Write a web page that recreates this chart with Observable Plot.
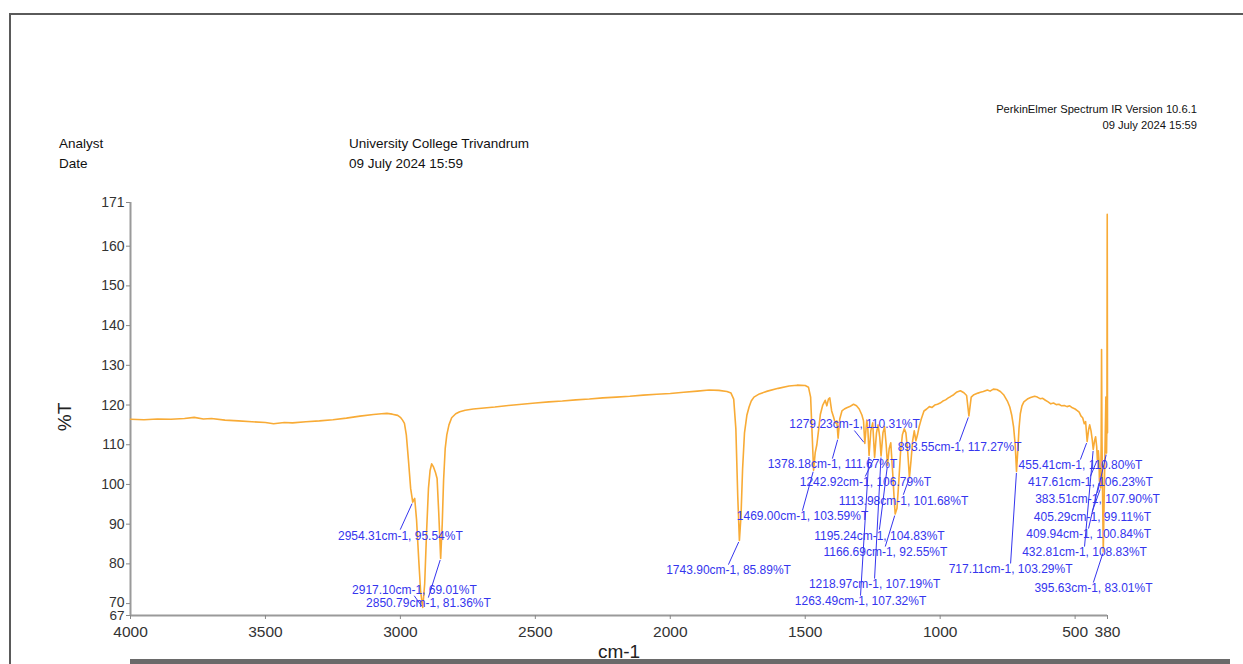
<!DOCTYPE html>
<html><head><meta charset="utf-8">
<script src="https://cdn.jsdelivr.net/npm/d3@7"></script>
<script src="https://cdn.jsdelivr.net/npm/@observablehq/plot@0.6"></script>
<style>
body{margin:0;background:#fff;font-family:"Liberation Sans",Arial,sans-serif;}
#page{position:relative;width:1243px;height:664px;overflow:hidden;background:#fff;}
.t{position:absolute;color:#111;white-space:nowrap;line-height:1;}
#chart{position:absolute;left:0;top:180px;}
#ylab{position:absolute;left:50px;top:407px;width:30px;height:20px;font-size:19px;line-height:20px;text-align:center;color:#222;transform:rotate(-90deg);transform-origin:50% 50%;}
g[aria-label="peak-labels"] text{letter-spacing:0.4px;}
</style></head><body>
<div id="page">
  <div style="position:absolute;left:9px;top:13px;width:1240px;height:2px;background:#5a5a5a"></div>
  <div style="position:absolute;left:9px;top:13px;width:2px;height:660px;background:#5a5a5a"></div>
  <div style="position:absolute;left:130px;top:659px;width:1100px;height:5px;background:#6a6a6a"></div>
  <div class="t" style="right:46px;top:104px;font-size:11.2px;text-align:right">PerkinElmer Spectrum IR Version 10.6.1</div>
  <div class="t" style="right:46px;top:120px;font-size:11.2px;text-align:right">09 July 2024 15:59</div>
  <div class="t" style="left:59px;top:137px;font-size:13.5px">Analyst</div>
  <div class="t" style="left:59px;top:157px;font-size:13.5px">Date</div>
  <div class="t" style="left:349px;top:137px;font-size:13.5px">University College Trivandrum</div>
  <div class="t" style="left:349px;top:157px;font-size:13.5px">09 July 2024 15:59</div>
  <div id="chart"></div>
  <div id="ylab">%T</div>
</div>
<script>
// ---- data ----
const xDomain = [4000, 380];
const yDomain = [67, 171];
const xTicks = [4000, 3500, 3000, 2500, 2000, 1500, 1000, 500, 380];
const yTicks = [171, 160, 150, 140, 130, 120, 110, 100, 90, 80, 70, 67];

const wavenumber = [4000,3950,3900,3850,3800,3764,3730,3700,3650,3600,3550,3500,3470,3430,3400,3350,3300,3250,3200,3150,3100,3070,3050,3030,3010,3000,2992,2985,2978,2970,2962,2954.31,2947,2940,2932,2925,2917.10,2910,2903,2896,2890,2884,2878,2870,2864,2858,2850.79,2845,2840,2834,2828,2820,2810,2795,2780,2760,2730,2700,2650,2600,2550,2500,2450,2400,2350,2300,2250,2200,2150,2100,2050,2000,1950,1900,1856,1820,1790,1775,1765,1757,1750,1743.90,1738,1732,1725,1716,1708,1700,1690,1670,1640,1600,1560,1530,1500,1488,1480,1474,1469.00,1463,1457,1450,1444,1435,1426,1420,1414,1409,1402,1395,1389,1383,1378.18,1372,1364,1355,1346,1335,1321,1310,1300,1290,1284,1279.23,1272,1268,1263.49,1257,1250,1242.92,1236,1230,1224,1218.97,1212,1206,1200,1195.24,1189,1183,1176,1171,1166.69,1160,1154,1147,1140,1133,1127,1120,1113.98,1108,1102,1096,1090,1084,1078,1070,1060,1050,1040,1030,1020,1010,1000,990,980,970,962,950,940,925,912,902,893.55,885,875,860,851,840,825,815,803,790,777,765,751,742,735,728,722,717.11,712,708,703,697,690,677,665,650,640,630,620,610,600,590,580,570,560,550,540,530,520,510,500,492,485,478,472,466,461,455.41,450,446,441,437,432.81,428,424,420,417.61,414,411.5,409.94,407.5,405.29,403.5,402,400.5,398,395.63,392,389,386,383.51,382.2,381,380];

const transmittance = [116.4,116.3,116.5,116.4,116.6,116.9,116.5,116.6,116.2,116.0,115.8,115.6,115.3,115.6,115.5,115.8,116.0,116.3,116.7,117.2,117.6,117.8,117.9,117.7,117.4,116.9,116.2,115.4,112.5,106,99,95.54,96.5,91,81,73,69.01,75,88,99,103.5,105.2,104.5,103,101.5,93,81.36,90,101,109,112.5,115,116.8,117.8,118.3,118.7,119,119.2,119.5,119.9,120.2,120.5,120.8,121,121.3,121.5,121.8,122,122.2,122.5,122.7,122.9,123.2,123.5,123.8,123.7,123.4,123,121.5,114,97,85.89,92,104,113,117.5,119.5,121,122,122.8,123.5,124.2,124.8,125,124.9,124.5,122,112,103.59,108,110,114,117.6,120,121.2,119.8,121.5,121.8,118.5,117,115.5,116,111.67,116.5,118.5,119,119.3,119.6,120.2,119.8,119,117.5,116,110.31,116.2,114,107.32,113.5,115.5,106.79,113,115,112,107.19,113,114.5,110,104.83,109,110.5,103,97,92.55,94,100,108,112.5,114,113,108,101.68,106,111,113.5,111,112.5,114.5,116.5,118.5,119,119.6,119.4,120,120.2,120.5,121,121.3,121.8,122.1,122.6,123.2,123.6,123.1,122.4,117.27,122,122.6,123,123.2,123.4,123.8,123.5,124,123.9,123.4,122.6,121,119.5,117.5,114.5,110,103.29,109,114,117.8,119.8,120.8,121.5,121.9,122.2,122,121.6,121.7,121.2,120.8,120.3,120.5,120.1,120.2,119.8,119.9,119.6,119.8,119.3,119,118.6,118.2,117.2,116.8,115.3,115.8,110.80,113.8,115,113.5,111.5,108.83,111,112,109.5,106.23,108.5,106,100.84,103.5,99.11,110,134,112,96,83.01,98,110,122,107.9,115,168,113];

// labelled peaks (wavenumber, %T)
const peakWn = [2954.31,2917.10,2850.79,1743.90,1469.00,1378.18,1279.23,1242.92,1113.98,1195.24,1166.69,1218.97,1263.49,893.55,717.11,455.41,417.61,383.51,405.29,409.94,432.81,395.63];
const peakT  = [95.54,69.01,81.36,85.89,103.59,111.67,110.31,106.79,101.68,104.83,92.55,107.19,107.32,117.27,103.29,110.80,106.23,107.90,99.11,100.84,108.83,83.01];
// where each peak label sits (in chart units)
const labelWn = [3000,2948,2896,1784,1510,1399,1317,1277,1136,1225,1203,1243,1295,928,739,480,443,417,436,450,465,432];
const labelT  = [87.1,73.5,70.0,78.3,91.9,105.0,115.1,100.5,95.9,87.1,82.85,74.8,70.5,109.3,78.6,104.75,100.5,96.4,91.7,87.4,82.85,73.8];

// ---- build tables ----
const spectrum = wavenumber.map((w, i) => ({wn: w, t: transmittance[i]}));
const peaks = peakWn.map((w, i) => ({
  wn: w, t: peakT[i], lx: labelWn[i], ly: labelT[i],
  ly2: peakT[i] < labelT[i] ? labelT[i] - 1.6 : labelT[i] + 1.6,
  text: `${w.toFixed(2)}cm-1, ${peakT[i].toFixed(2)}%T`
}));

const blue = "#3535ee";
const mainYTicks = yTicks.filter(d => d !== 70 && d !== 67);
const chart = Plot.plot({
  width: 1243,
  height: 484,
  marginTop: 22,
  marginBottom: 49,
  marginLeft: 130,
  marginRight: 136,
  style: {fontFamily: "'Liberation Sans', Arial, sans-serif", fontSize: "14px", color: "#333", background: "transparent", overflow: "visible"},
  x: {domain: xDomain, label: null},
  y: {domain: yDomain, label: null},
  marks: [
    Plot.ruleX([xDomain[0]], {stroke: "#9a9a9a", strokeWidth: 2}),
    Plot.ruleY([yDomain[0]], {stroke: "#9a9a9a", strokeWidth: 2}),
    Plot.axisY({ticks: yTicks, tickSize: 4, stroke: "#888", label: null, tickFormat: () => ""}),
    Plot.axisY({ticks: mainYTicks, tickSize: 0, tickPadding: 6, fill: "#333", label: null, tickFormat: d => String(d)}),
    Plot.axisY({ticks: [70], tickSize: 0, tickPadding: 6, dy: -1.5, fill: "#333", label: null, tickFormat: d => String(d)}),
    Plot.axisY({ticks: [67], tickSize: 0, tickPadding: 6, dy: 0.5, fontSize: 13.5, fill: "#333", label: null, tickFormat: d => String(d)}),
    Plot.axisX({ticks: xTicks, tickSize: 4, tickPadding: 6, stroke: "#888", fill: "#333", fontSize: 15.5, label: null, tickFormat: d => String(d)}),
    Plot.line(spectrum, {x: "wn", y: "t", stroke: "#f8ab36", strokeWidth: 1.6, strokeLinejoin: "round"}),
    Plot.arrow(peaks, {x1: "lx", y1: "ly2", x2: "wn", y2: "t", stroke: blue, strokeWidth: 1, headLength: 0, insetEnd: 2, bend: 0}),
    Plot.text(peaks, {x: "lx", y: "ly", text: "text", fill: blue, fontSize: 12, ariaLabel: "peak-labels"}),
    Plot.text(["cm-1"], {frameAnchor: "bottom", dy: 42, fontSize: 19, fill: "#222"})
  ]
});
document.getElementById("chart").appendChild(chart);
</script>
</body></html>
